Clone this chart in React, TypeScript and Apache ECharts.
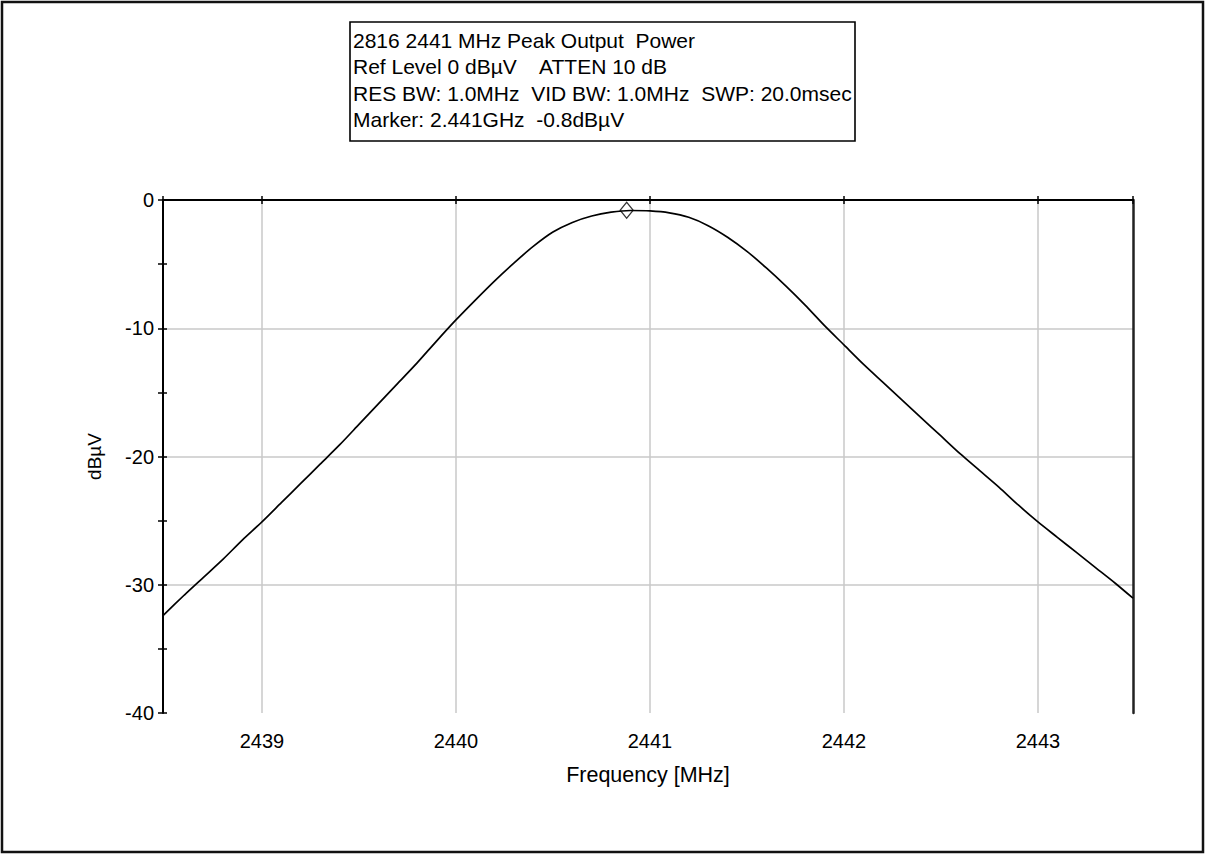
import React, { useEffect, useRef } from "react";
import * as echarts from "echarts";

// ---- data ----
const freqMHz = [
  2438.49, 2438.6, 2438.7, 2438.8, 2438.9, 2439.0, 2439.1, 2439.2, 2439.3, 2439.4,
  2439.5, 2439.6, 2439.7, 2439.8, 2439.9, 2440.0, 2440.1, 2440.2, 2440.3, 2440.4,
  2440.5, 2440.6, 2440.7, 2440.8, 2440.9, 2441.0, 2441.1, 2441.2, 2441.3, 2441.4,
  2441.5, 2441.6, 2441.7, 2441.8, 2441.9, 2442.0, 2442.1, 2442.2, 2442.3, 2442.4,
  2442.5, 2442.6, 2442.7, 2442.8, 2442.9, 2443.0, 2443.1, 2443.2, 2443.3, 2443.4,
  2443.49,
];
const levelDbuV = [
  -32.4, -30.8, -29.4, -28.0, -26.5, -25.1, -23.6, -22.1, -20.6, -19.1,
  -17.5, -15.9, -14.3, -12.7, -11.0, -9.35, -7.8, -6.3, -4.9, -3.6,
  -2.5, -1.75, -1.25, -0.95, -0.82, -0.85, -1.0, -1.35, -2.0, -2.9,
  -4.0, -5.3, -6.7, -8.2, -9.8, -11.3, -12.8, -14.2, -15.6, -17.0,
  -18.4, -19.8, -21.1, -22.4, -23.8, -25.1, -26.3, -27.5, -28.7, -29.9,
  -31.05,
];
const markerPoint = [2440.88, -0.8];
const xRange = [2438.49, 2443.49];
const yRange = [-40, 0];
const yStep = 10;
const infoLines = [
  "2816 2441 MHz Peak Output  Power",
  "Ref Level 0 dB\u00b5V    ATTEN 10 dB",
  "RES BW: 1.0MHz  VID BW: 1.0MHz  SWP: 20.0msec",
  "Marker: 2.441GHz  -0.8dB\u00b5V",
];
const xName = "Frequency [MHz]";
const yName = "dB\u00b5V";

const FONT = "'Liberation Sans', Arial, sans-serif";

export default function App() {
  const ref = useRef<HTMLDivElement>(null);

  useEffect(() => {
    if (!ref.current) return;
    const chart = echarts.init(ref.current, null, { renderer: "svg" });

    const lineData = freqMHz.map((f, i) => [f, levelDbuV[i]]);

    const xCommon = {
      type: "value" as const,
      min: xRange[0],
      max: xRange[1],
      splitNumber: 5,
      minInterval: 1,
      maxInterval: 1,
    };
    const yCommon = {
      type: "value" as const,
      min: yRange[0],
      max: yRange[1],
      interval: yStep,
    };

    const option: any = {
      animation: false,
      backgroundColor: "#ffffff",
      grid: { left: 163, top: 200, width: 970, height: 513, show: false },
      xAxis: [
        {
          ...xCommon,
          position: "bottom",
          axisLine: { show: true, lineStyle: { color: "#000", width: 2 } },
          axisTick: { show: false },
          axisLabel: {
            show: true,
            color: "#000",
            fontSize: 20,
            fontFamily: FONT,
            margin: 18,
            showMinLabel: false,
            showMaxLabel: false,
            formatter: (v: number) => String(v),
          },
          splitLine: {
            show: true,
            showMinLine: false,
            showMaxLine: false,
            lineStyle: { color: "#c8c8c8", width: 1.5 },
          },
          name: xName,
          nameLocation: "middle",
          nameGap: 51,
          nameTextStyle: { color: "#000", fontSize: 21.5, fontFamily: FONT },
        },
        {
          ...xCommon,
          position: "top",
          axisLine: { show: true, lineStyle: { color: "#000", width: 2 } },
          axisTick: { show: true, inside: false, length: 4, lineStyle: { color: "#000", width: 1.5 } },
          axisLabel: { show: false },
          splitLine: { show: false },
        },
        {
          ...xCommon,
          position: "top",
          axisLine: { show: false },
          axisTick: { show: true, inside: true, length: 4, lineStyle: { color: "#000", width: 1.5 } },
          axisLabel: { show: false },
          splitLine: { show: false },
        },
      ],
      yAxis: [
        {
          ...yCommon,
          position: "left",
          axisLine: { show: true, lineStyle: { color: "#000", width: 2 } },
          axisTick: { show: true, inside: false, length: 5, lineStyle: { color: "#000", width: 1.5 } },
          minorTick: { show: true, splitNumber: 2, length: 5, lineStyle: { color: "#000", width: 1.5 } },
          axisLabel: { show: true, color: "#000", fontSize: 20, fontFamily: FONT, margin: 9 },
          splitLine: {
            show: true,
            showMinLine: false,
            showMaxLine: false,
            lineStyle: { color: "#c8c8c8", width: 1.5 },
          },
          name: yName,
          nameLocation: "middle",
          nameGap: 59,
          nameTextStyle: { color: "#000", fontSize: 19, fontFamily: FONT },
        },
        {
          ...yCommon,
          position: "left",
          axisLine: { show: false },
          axisTick: { show: true, inside: true, length: 4, lineStyle: { color: "#000", width: 1.5 } },
          minorTick: { show: true, splitNumber: 2, length: 4, lineStyle: { color: "#000", width: 1.5 } },
          axisLabel: { show: false },
          splitLine: { show: false },
        },
        {
          ...yCommon,
          position: "right",
          axisLine: { show: true, lineStyle: { color: "#222", width: 2.5 } },
          axisTick: { show: false },
          axisLabel: { show: false },
          splitLine: { show: false },
        },
      ],
      series: [
        {
          type: "line",
          xAxisIndex: 0,
          yAxisIndex: 0,
          data: lineData,
          showSymbol: false,
          symbol: "none",
          smooth: 0.25,
          clip: true,
          lineStyle: { color: "#000", width: 1.7 },
          z: 3,
        },
        {
          type: "scatter",
          xAxisIndex: 0,
          yAxisIndex: 0,
          data: [markerPoint],
          symbol: "diamond",
          symbolSize: [13, 16],
          itemStyle: { color: "rgba(0,0,0,0)", borderColor: "#000", borderWidth: 1.3 },
          z: 4,
        },
      ],
      graphic: [
        {
          type: "rect",
          silent: true,
          shape: { x: 2, y: 2, width: 1201, height: 850 },
          style: { fill: "none", stroke: "#111", lineWidth: 2.5 },
        },
        {
          type: "rect",
          silent: true,
          shape: { x: 350, y: 22, width: 505, height: 119 },
          style: { fill: "#fff", stroke: "#000", lineWidth: 1.6 },
        },
        ...infoLines.map((t, i) => ({
          type: "text",
          silent: true,
          x: 353,
          y: 40 + i * 26.5,
          style: {
            text: t,
            fill: "#000",
            font: `21px ${FONT}`,
            textAlign: "left",
            align: "left",
            textVerticalAlign: "middle",
            verticalAlign: "middle",
          },
        })),
      ],
    };

    chart.setOption(option);
    return () => chart.dispose();
  }, []);

  return (
    <div
      ref={ref}
      style={{ position: "absolute", left: 0, top: 0, width: 1206, height: 855, background: "#fff" }}
    />
  );
}
